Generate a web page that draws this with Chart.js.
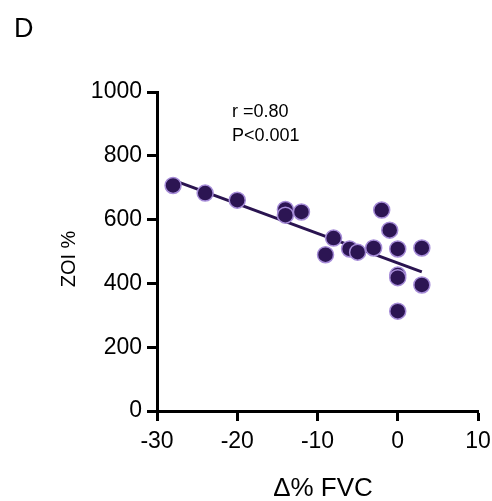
<!DOCTYPE html>
<html>
<head>
<meta charset="utf-8">
<script src="https://cdn.jsdelivr.net/npm/chart.js@4"></script>
<style>
  html, body { margin: 0; padding: 0; background: #fff; }
  #c { display: block; }
</style>
</head>
<body>
<canvas id="c" width="492" height="501"></canvas>
<script>
// Δ% FVC vs ZOI %
const fvcChange = [-28, -24, -20, -14, -14, -12, -9, -8, -6, -5, -3, -2, -1, 0, 0, 0, 0, 3, 3];
const zoiPct = [707, 683, 661, 632, 614, 624, 490, 542, 508, 498, 511, 630, 567, 508, 426, 418, 313, 511, 395];

// regression line end points
const fitX = [-28, 3];
const fitY = [724, 436];

const xTicks = [-30, -20, -10, 0, 10];
const yTicks = [0, 200, 400, 600, 800, 1000];

const statLines = ['r =0.80', 'P<0.001'];

const FONT = 'Arial, "Liberation Sans", sans-serif';

const points = fvcChange.map((x, i) => ({ x: x, y: zoiPct[i] }));
const fitLine = fitX.map((x, i) => ({ x: x, y: fitY[i] }));

// titles, panel letter and stats text
const textPlugin = {
    id: 'texts',
    afterDraw(chart) {
        const ctx = chart.ctx;
        ctx.save();
        ctx.fillStyle = '#000';

        ctx.font = '27px ' + FONT;
        ctx.textAlign = 'left';
        ctx.textBaseline = 'alphabetic';
        ctx.fillText('D', 14, 37);

        ctx.font = '18px ' + FONT;
        ctx.fillText(statLines[0], 232, 117);
        ctx.fillText(statLines[1], 232, 141);

        ctx.font = '26px ' + FONT;
        ctx.textAlign = 'center';
        ctx.fillText('Δ% FVC', 323, 496);

        ctx.translate(75, 259);
        ctx.rotate(-Math.PI / 2);
        ctx.font = '20px ' + FONT;
        ctx.fillText('ZOI %', 0, 0);
        ctx.restore();
    }
};

new Chart(document.getElementById('c'), {
    type: 'scatter',
    data: {
        datasets: [
            {
                data: points,
                backgroundColor: '#2c1553',
                borderColor: '#a68cd8',
                borderWidth: 1.5,
                pointRadius: 8,
                pointHoverRadius: 8,
                order: 1,
                clip: false
            },
            {
                type: 'line',
                data: fitLine,
                borderColor: '#2a1450',
                borderWidth: 3,
                pointRadius: 0,
                fill: false,
                order: 2,
                clip: false
            }
        ]
    },
    options: {
        responsive: false,
        animation: false,
        devicePixelRatio: 1,
        layout: { padding: { left: 0, top: 92, right: 14, bottom: 0 } },
        plugins: { legend: { display: false }, tooltip: { enabled: false } },
        scales: {
            x: {
                type: 'linear',
                min: -30,
                max: 10,
                afterFit(scale) {
                    scale.height = 90;
                    scale.paddingLeft = 0;
                    scale.paddingRight = 0;
                },
                afterBuildTicks(scale) { scale.ticks = xTicks.map(v => ({ value: v })); },
                border: { display: true, color: '#000', width: 3 },
                grid: {
                    drawOnChartArea: false,
                    drawTicks: true,
                    tickLength: 10,
                    tickWidth: 3,
                    tickColor: '#000'
                },
                ticks: {
                    color: '#000',
                    font: { family: FONT, size: 23 },
                    padding: 7,
                    maxRotation: 0,
                    callback: v => String(v)
                }
            },
            y: {
                type: 'linear',
                min: 0,
                max: 1000,
                afterFit(scale) {
                    scale.width = 157;
                    scale.paddingTop = 0;
                    scale.paddingBottom = 0;
                },
                afterBuildTicks(scale) { scale.ticks = yTicks.map(v => ({ value: v })); },
                border: { display: true, color: '#000', width: 3 },
                grid: {
                    drawOnChartArea: false,
                    drawTicks: true,
                    tickLength: 10,
                    tickWidth: 3,
                    tickColor: '#000'
                },
                ticks: {
                    color: '#000',
                    font: { family: FONT, size: 23 },
                    padding: 5,
                    callback: v => String(v)
                }
            }
        }
    },
    plugins: [textPlugin]
});
</script>
</body>
</html>
